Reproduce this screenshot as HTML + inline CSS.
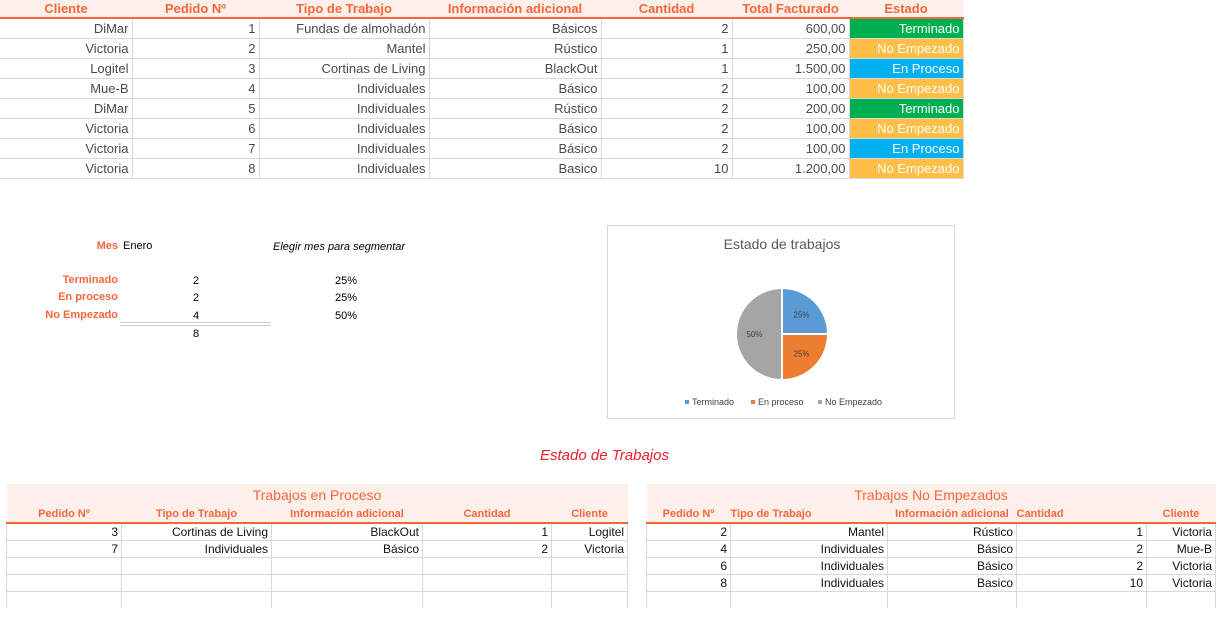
<!DOCTYPE html>
<html><head><meta charset="utf-8">
<style>
body{margin:0;width:1225px;height:633px;background:#fff;font-family:"Liberation Sans",sans-serif;position:relative;overflow:hidden}
.a{position:absolute;white-space:nowrap}
table{border-collapse:collapse;position:absolute;font-size:13px;color:#4a4a4a;table-layout:fixed}
td{border:1px solid #d9d9d9;text-align:right;padding:0 3px;height:19px;overflow:hidden;white-space:nowrap}
th{color:#f4673a;font-weight:bold;font-size:13px;background:#fdefe9;border-bottom:2px solid #f4673a;height:17px;padding:0;white-space:nowrap}
.g{background:#00b050;color:#fff}.o{background:#ffbf47;color:#fff}.b{background:#00b0f0;color:#fff}
.sm td{height:16px;font-size:12px;color:#111}
.sm th{font-size:11px;height:17px}
.sm td.ttl{background:#fdefe9;color:#f4673a;font-size:14px;text-align:center;height:20px;border:none;padding-top:1px}
.lab{color:#f4673a;font-weight:bold;font-size:11px;text-align:right;width:90px}
</style></head><body>
<table style="left:0;top:0;width:963px">
<colgroup><col style="width:132px"><col style="width:127px"><col style="width:170px"><col style="width:172px"><col style="width:131px"><col style="width:117px"><col style="width:114px"></colgroup>
<tr><th>Cliente</th><th>Pedido Nº</th><th>Tipo de Trabajo</th><th>Información adicional</th><th>Cantidad</th><th>Total Facturado</th><th>Estado</th></tr>
<tr><td style="border-left:none">DiMar</td><td>1</td><td>Fundas de almohadón</td><td>Básicos</td><td>2</td><td>600,00</td><td class="g">Terminado</td></tr>
<tr><td style="border-left:none">Victoria</td><td>2</td><td>Mantel</td><td>Rústico</td><td>1</td><td>250,00</td><td class="o">No Empezado</td></tr>
<tr><td style="border-left:none">Logitel</td><td>3</td><td>Cortinas de Living</td><td>BlackOut</td><td>1</td><td>1.500,00</td><td class="b">En Proceso</td></tr>
<tr><td style="border-left:none">Mue-B</td><td>4</td><td>Individuales</td><td>Básico</td><td>2</td><td>100,00</td><td class="o">No Empezado</td></tr>
<tr><td style="border-left:none">DiMar</td><td>5</td><td>Individuales</td><td>Rústico</td><td>2</td><td>200,00</td><td class="g">Terminado</td></tr>
<tr><td style="border-left:none">Victoria</td><td>6</td><td>Individuales</td><td>Básico</td><td>2</td><td>100,00</td><td class="o">No Empezado</td></tr>
<tr><td style="border-left:none">Victoria</td><td>7</td><td>Individuales</td><td>Básico</td><td>2</td><td>100,00</td><td class="b">En Proceso</td></tr>
<tr><td style="border-left:none">Victoria</td><td>8</td><td>Individuales</td><td>Basico</td><td>10</td><td>1.200,00</td><td class="o">No Empezado</td></tr>
</table>

<div class="a lab" style="left:28px;top:240px;">Mes</div>
<div class="a" style="left:123px;top:240px;font-size:11px">Enero</div>
<div class="a" style="left:273px;top:241px;font-size:11px;font-style:italic">Elegir mes para segmentar</div>
<div class="a lab" style="left:28px;top:274px">Terminado</div>
<div class="a lab" style="left:28px;top:291px">En proceso</div>
<div class="a lab" style="left:28px;top:309px">No Empezado</div>
<div class="a" style="left:193px;top:275px;font-size:11px">2</div>
<div class="a" style="left:193px;top:292px;font-size:11px">2</div>
<div class="a" style="left:193px;top:310px;font-size:11px">4</div>
<div class="a" style="left:120px;top:322px;width:151px;height:2px;border-top:1px solid #ccc;border-bottom:1px solid #ccc"></div>
<div class="a" style="left:193px;top:328px;font-size:11px">8</div>
<div class="a" style="left:335px;top:275px;font-size:11px">25%</div>
<div class="a" style="left:335px;top:292px;font-size:11px">25%</div>
<div class="a" style="left:335px;top:310px;font-size:11px">50%</div>

<div class="a" style="left:607px;top:225px;width:346px;height:192px;border:1px solid #d9d9d9">
<svg id="pie" width="346" height="192" style="position:absolute;left:0;top:0">
<text x="174" y="23" text-anchor="middle" font-size="14" fill="#595959" font-family="Liberation Sans, sans-serif">Estado de trabajos</text>
</svg>
</div>

<div class="a" style="left:540px;top:447px;color:#e8202a;font-style:italic;font-size:15px">Estado de Trabajos</div>

<table class="sm" style="left:6px;top:484px;width:621px">
<colgroup><col style="width:115px"><col style="width:150px"><col style="width:151px"><col style="width:129px"><col style="width:76px"></colgroup>
<tr><td colspan="5" class="ttl">Trabajos en Proceso</td></tr>
<tr><th>Pedido Nº</th><th>Tipo de Trabajo</th><th>Información adicional</th><th>Cantidad</th><th>Cliente</th></tr>
<tr><td>3</td><td>Cortinas de Living</td><td>BlackOut</td><td>1</td><td>Logitel</td></tr>
<tr><td>7</td><td>Individuales</td><td>Básico</td><td>2</td><td>Victoria</td></tr>
<tr><td></td><td></td><td></td><td></td><td></td></tr>
<tr><td></td><td></td><td></td><td></td><td></td></tr>
<tr><td style="height:11px;border-bottom:none"></td><td style="border-bottom:none"></td><td style="border-bottom:none"></td><td style="border-bottom:none"></td><td style="border-bottom:none"></td></tr>
</table>

<table class="sm" style="left:646px;top:484px;width:569px">
<colgroup><col style="width:84px"><col style="width:157px"><col style="width:129px"><col style="width:130px"><col style="width:69px"></colgroup>
<tr><td colspan="5" class="ttl">Trabajos No Empezados</td></tr>
<tr><th>Pedido Nº</th><th style="text-align:left">Tipo de Trabajo</th><th>Información adicional</th><th style="text-align:left">Cantidad</th><th>Cliente</th></tr>
<tr><td>2</td><td>Mantel</td><td>Rústico</td><td>1</td><td>Victoria</td></tr>
<tr><td>4</td><td>Individuales</td><td>Básico</td><td>2</td><td>Mue-B</td></tr>
<tr><td>6</td><td>Individuales</td><td>Básico</td><td>2</td><td>Victoria</td></tr>
<tr><td>8</td><td>Individuales</td><td>Basico</td><td>10</td><td>Victoria</td></tr>
<tr><td style="height:11px;border-bottom:none"></td><td style="border-bottom:none"></td><td style="border-bottom:none"></td><td style="border-bottom:none"></td><td style="border-bottom:none"></td></tr>
</table>

<script>
const categories=["Terminado","En proceso","No Empezado"];
const values=[2,2,4];
const colors=["#5b9bd5","#ed7d31","#a5a5a5"];
const svg=document.getElementById('pie');
const NS="http://www.w3.org/2000/svg";
const cx=174,cy=108,r=46;
const total=values.reduce((a,b)=>a+b,0);
let ang=-Math.PI/2;
values.forEach((v,i)=>{
  const a2=ang+v/total*2*Math.PI;
  const x1=cx+r*Math.cos(ang),y1=cy+r*Math.sin(ang),x2=cx+r*Math.cos(a2),y2=cy+r*Math.sin(a2);
  const p=document.createElementNS(NS,'path');
  p.setAttribute('d',`M${cx},${cy}L${x1},${y1}A${r},${r} 0 ${a2-ang>Math.PI?1:0} 1 ${x2},${y2}Z`);
  p.setAttribute('fill',colors[i]);p.setAttribute('stroke','#fff');p.setAttribute('stroke-width','2');
  
  
  svg.appendChild(p);
  const m=(ang+a2)/2;
  const t=document.createElementNS(NS,'text');
  t.setAttribute('x',cx+r*0.6*Math.cos(m));t.setAttribute('y',cy+r*0.6*Math.sin(m)+3);
  t.setAttribute('text-anchor','middle');t.setAttribute('font-size','8');t.setAttribute('fill','#404040');
  t.setAttribute('font-family','Liberation Sans, sans-serif');
  t.textContent=Math.round(v/total*100)+'%';
  
  
  svg.appendChild(t);
  ang=a2;
});
const lx=[77,143,210];
categories.forEach((c,i)=>{
  const g=document.createElementNS(NS,'g');
  
  
  const s=document.createElementNS(NS,'rect');
  s.setAttribute('x',lx[i]);s.setAttribute('y',174);s.setAttribute('width',4);s.setAttribute('height',4);s.setAttribute('fill',colors[i]);
  const t=document.createElementNS(NS,'text');
  t.setAttribute('x',lx[i]+7);t.setAttribute('y',179);t.setAttribute('font-size','9');t.setAttribute('fill','#404040');
  t.setAttribute('font-family','Liberation Sans, sans-serif');
  t.textContent=c;
  g.appendChild(s);g.appendChild(t);svg.appendChild(g);
});
</script>
</body></html>
